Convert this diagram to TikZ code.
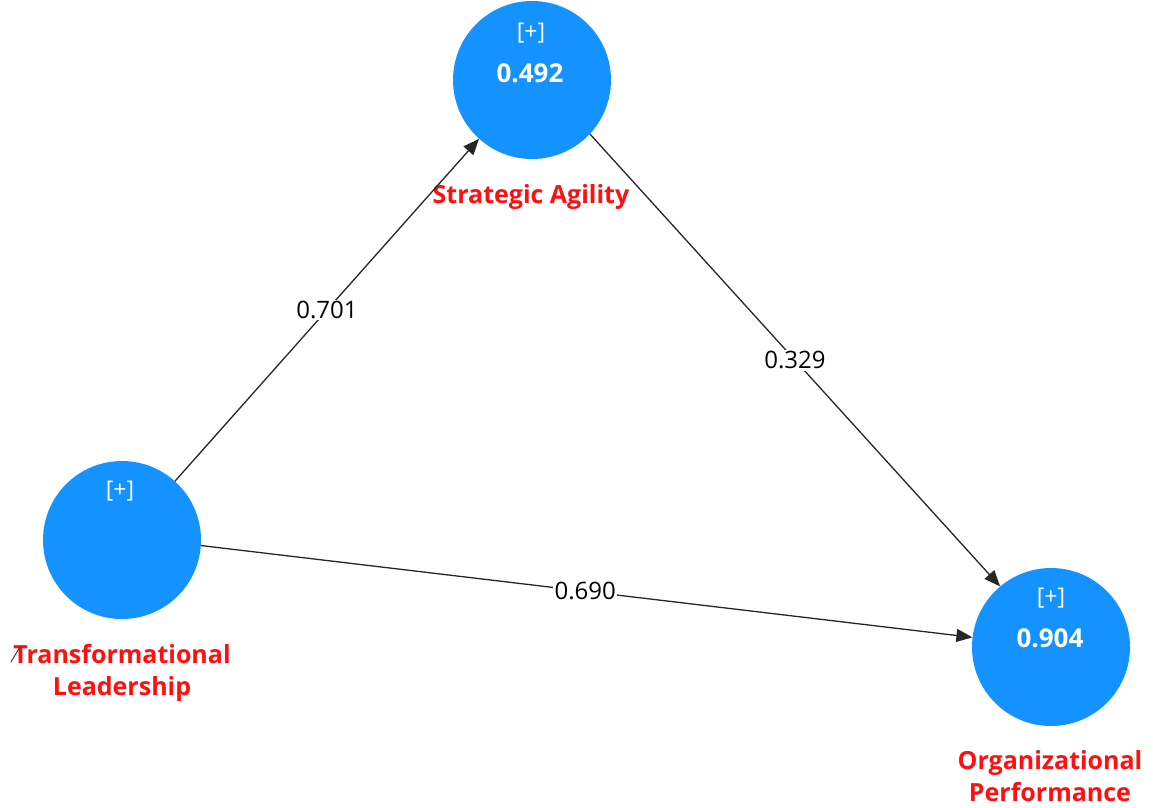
\documentclass[tikz,border=0pt]{standalone}
\usepackage{fontspec}
\setmainfont{Open Sans}
\usetikzlibrary{arrows.meta}
\definecolor{lvblue}{RGB}{20,146,255}
\definecolor{lvred}{RGB}{255,16,16}
\begin{document}
\begin{tikzpicture}[x=1pt,y=-1pt,
  latent/.style={circle,fill=lvblue,minimum size=158pt,inner sep=0pt},
  inner/.style={text=white,font=\fontsize{23}{26}\selectfont},
  innerval/.style={text=white,font=\bfseries\fontsize{26}{30}\selectfont},
  lvlabel/.style={text=lvred,font=\bfseries\fontsize{25}{32}\selectfont,align=center},
  path/.style={draw=black!85,line width=1.3pt,-{Triangle[length=16pt,width=13pt]}},
  coef/.style={fill=white,inner sep=1.5pt,font=\fontsize{24}{26}\selectfont}]
\useasboundingbox (0,0) rectangle (1153,807);
% constructs
\node[latent] (SA) at (532,80) {};
\node[latent] (TL) at (122,540) {};
\node[latent] (OP) at (1051,647) {};
\node[inner] (SAplus) at (531,33) {[+]};
\node[innerval] (SAval) at (530,73) {0.492};
\node[inner] (TLplus) at (120,491) {[+]};
\node[inner] (OPplus) at (1051,598) {[+]};
\node[innerval] (OPval) at (1050,638) {0.904};
% construct names
\node[lvlabel] (SAname) at (531,197) {Strategic Agility};
\node[lvlabel] (TLname) at (122,673) {Transformational\\Leadership};
\node[lvlabel] (OPname) at (1050,776) {Organizational\\Performance};
% small marker near the left label
\coordinate (mkA) at (11,662);
\coordinate (mkB) at (20,647);
\draw[black!80,line width=0.9pt] (mkA) -- (mkB);
% structural paths
\draw[path] (TL.48) -- node[coef,pos=0.5] {0.701} (SA.228);
\draw[path] (SA.317) -- node[coef,pos=0.5] {0.329} (OP.130);
\draw[path] (TL.-4) -- node[coef,pos=0.498] {0.690} (OP.173);
\end{tikzpicture}
\end{document}
